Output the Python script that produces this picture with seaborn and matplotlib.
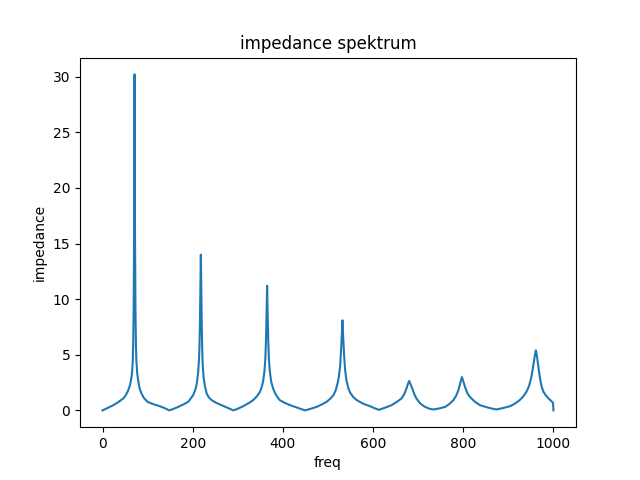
import matplotlib
matplotlib.use("Agg")
import matplotlib.pyplot as plt
import seaborn as sns
import pandas as pd

freq = [0, 10, 24, 35, 46, 52, 57, 61, 63, 65, 66, 67, 68, 69, 70, 71, 72, 73, 74, 75, 77, 79, 82, 86, 92, 100, 113, 127, 138, 148,
        158, 168, 180, 190, 201, 206, 209, 212, 214, 215, 216, 217, 218, 219, 220, 221, 222, 224, 227, 231, 236, 242, 252, 264, 277, 290,
        300, 312, 324, 334, 342, 349, 353, 356, 359, 361, 362.5, 364, 365, 366, 367.5, 369, 371, 374, 378, 382, 387, 393, 404, 416, 432, 449,
        462, 475, 487, 497, 505, 512, 517, 521, 524, 527, 530, 532, 534, 536, 538, 541, 545, 549, 556, 564, 578, 593, 603, 613,
        627, 641, 652, 663, 669, 674, 677, 680, 683, 687, 691, 696, 705, 715, 725, 734,
        747, 760, 770, 778, 784, 789, 793, 797, 800, 804, 809, 815, 826, 837, 855, 873,
        889, 904, 915, 925, 933, 940, 946, 951, 954, 957, 959, 961, 963, 965, 968, 971, 974, 978, 983, 988, 993, 997, 999, 1000]
impedance = [0.0, 0.2, 0.47, 0.75, 1.07, 1.4, 1.8, 2.3, 2.7, 3.2, 3.7, 4.5, 6.0, 9.0, 16.0, 30.2, 16.0, 9.0, 6.0, 4.5, 3.3, 2.7, 2.0, 1.55, 1.1, 0.76, 0.55, 0.38, 0.2, 0.0,
             0.15, 0.32, 0.55, 0.77, 1.37, 1.9, 2.4, 3.4, 4.6, 5.8, 7.8, 10.8, 14.0, 10.8, 7.8, 5.6, 4.2, 3.0, 2.2, 1.5, 1.15, 0.92, 0.68, 0.47, 0.24, 0.0,
             0.15, 0.38, 0.65, 0.92, 1.25, 1.66, 2.1, 2.6, 3.5, 4.6, 6.3, 9.0, 11.2, 9.0, 6.3, 4.6, 3.5, 2.6, 2.0, 1.6, 1.25, 0.92, 0.68, 0.47, 0.24, 0.0,
             0.15, 0.32, 0.55, 0.77, 1.05, 1.37, 1.8, 2.4, 3.0, 4.0, 6.2, 8.1, 6.3, 4.8, 3.6, 2.7, 2.0, 1.6, 1.2, 0.92, 0.6, 0.38, 0.2, 0.05,
             0.25, 0.47, 0.75, 1.07, 1.45, 1.97, 2.35, 2.65, 2.35, 1.97, 1.5, 1.07, 0.6, 0.32, 0.15, 0.08,
             0.18, 0.32, 0.6, 0.92, 1.3, 1.8, 2.4, 3.0, 2.6, 2.1, 1.55, 1.2, 0.77, 0.47, 0.25, 0.08,
             0.22, 0.38, 0.62, 0.92, 1.25, 1.66, 2.2, 3.0, 3.7, 4.5, 5.0, 5.4, 5.0, 4.4, 3.5, 2.7, 2.1, 1.66, 1.35, 1.12, 0.92, 0.77, 0.7, 0.0]

df = pd.DataFrame({"freq": freq, "impedance": impedance})

fig, ax = plt.subplots(figsize=(6.4, 4.8), dpi=100)
sns.lineplot(data=df, x="freq", y="impedance", ax=ax, color="#1f77b4", linewidth=1.5)
ax.set_title("impedance spektrum")
ax.set_xlabel("freq")
ax.set_ylabel("impedance")
fig.savefig("out.png", dpi=100)
